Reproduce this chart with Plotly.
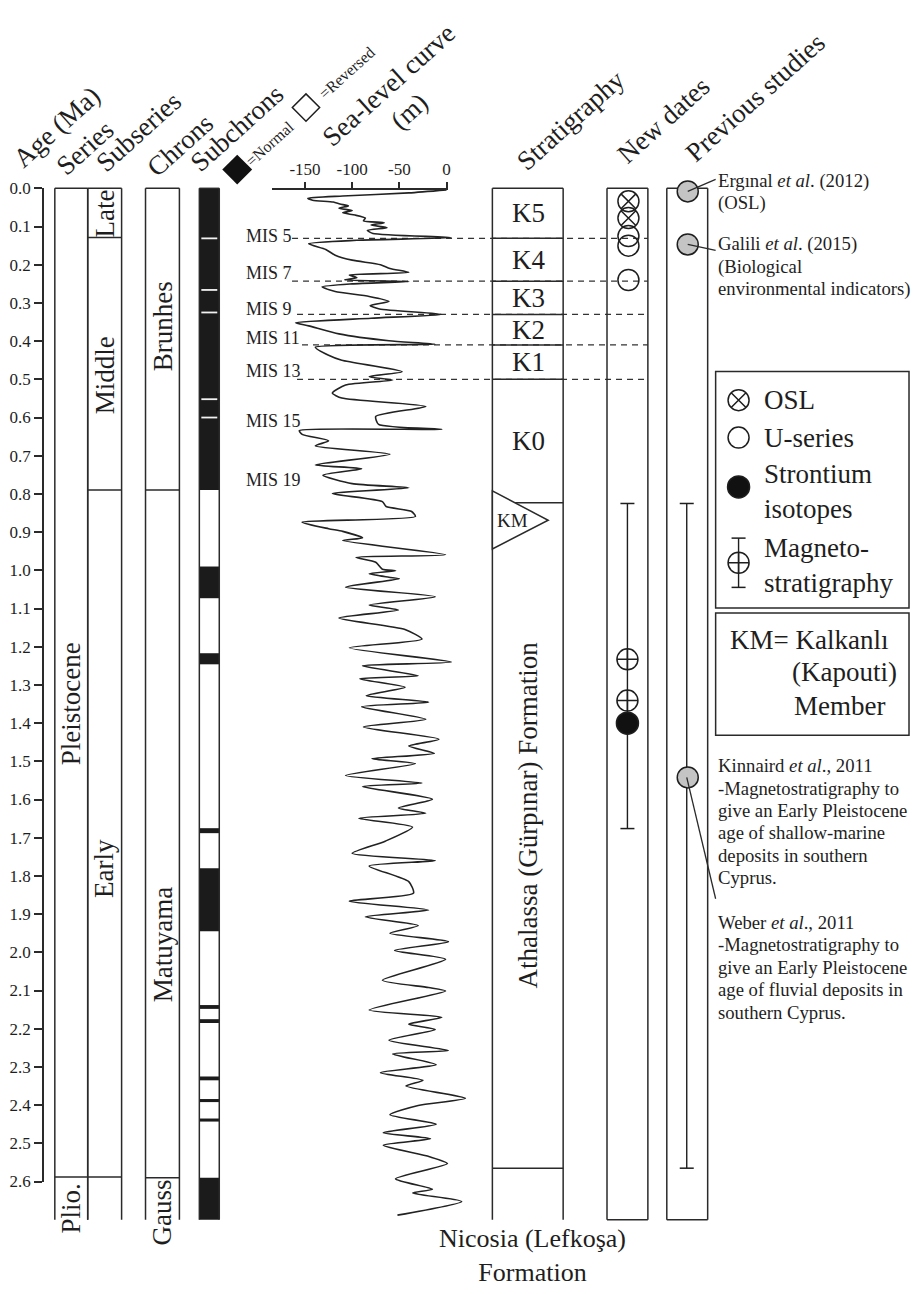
import plotly.graph_objects as go

# ------------------------------------------------------------------ data
age_tick_vals = [0.0, 0.1, 0.2, 0.3, 0.4, 0.5, 0.6, 0.7, 0.8, 0.9, 1.0, 1.1, 1.2,
                 1.3, 1.4, 1.5, 1.6, 1.7, 1.8, 1.9, 2.0, 2.1, 2.2, 2.3, 2.4, 2.5, 2.6]
age_tick_text = ["0.0", "0.1", "0.2", "0.3", "0.4", "0.5", "0.6", "0.7", "0.8", "0.9",
                 "1.0", "1.1", "1.2", "1.3", "1.4", "1.5", "1.6", "1.7", "1.8", "1.9",
                 "2.0", "2.1", "2.2", "2.3", "2.4", "2.5", "2.6"]
sea_tick_vals = [-150, -100, -50, 0]
sea_tick_text = ["-150", "-100", "-50", "0"]

column_base = 2.70

series_names = ["Pleistocene", "Plio."]
series_bounds = [0.0, 2.588]
series_label_ages = [1.35, 2.67]

subseries_names = ["Late", "Middle", "Early"]
subseries_bounds = [0.0, 0.129, 0.79, 2.588]
subseries_label_ages = [0.067, 0.49, 1.78]

chron_names = ["Brunhes", "Matuyama", "Gauss"]
chron_bounds = [0.0, 0.79, 2.59]
chron_label_ages = [0.36, 1.98, 2.68]

normal_start = [0.0, 0.99, 1.217, 1.675, 1.78, 2.138, 2.175, 2.325, 2.384, 2.435, 2.59]
normal_end = [0.79, 1.073, 1.246, 1.688, 1.945, 2.148, 2.185, 2.335, 2.392, 2.443, 2.70]
excursion_ages = [0.131, 0.266, 0.325, 0.552, 0.600]

strat_units = ["K5", "K4", "K3", "K2", "K1", "K0"]
strat_bounds = [0.0, 0.131, 0.243, 0.33, 0.41, 0.50, 0.823]
strat_base = 2.565
km_ages = [0.792, 0.869, 0.944]
formation_label_age = 1.64

mis_names = ["MIS 5", "MIS 7", "MIS 9", "MIS 11", "MIS 13", "MIS 15", "MIS 19"]
mis_label_ages = [0.124, 0.222, 0.315, 0.392, 0.477, 0.609, 0.763]
mis_line_ages = [0.131, 0.243, 0.33, 0.41, 0.50]

osl_ages = [0.034, 0.078]
useries_ages = [0.125, 0.150, 0.240]
magneto_ages = [1.233, 1.341]
magneto_range = [0.825, 1.676]
strontium_ages = [1.40]
previous_ages = [0.008, 0.147, 1.542]
previous_range = [0.825, 2.565]

sl_age = [0.004, 0.012, 0.020, 0.026, 0.031, 0.036, 0.041, 0.046, 0.052, 0.058,
          0.064, 0.070, 0.078, 0.085, 0.090, 0.096, 0.103, 0.110, 0.118, 0.129,
          0.136, 0.145, 0.160, 0.175, 0.188, 0.200, 0.210, 0.220, 0.227, 0.234,
          0.240, 0.244, 0.250, 0.258, 0.270, 0.283, 0.296, 0.307, 0.316, 0.330,
          0.340, 0.352, 0.360, 0.381, 0.399, 0.408, 0.416, 0.437, 0.450, 0.480,
          0.493, 0.502, 0.515, 0.536, 0.549, 0.571, 0.597, 0.618, 0.631, 0.634,
          0.644, 0.661, 0.674, 0.696, 0.724, 0.734, 0.751, 0.773, 0.784, 0.799,
          0.820, 0.833, 0.846, 0.859, 0.874, 0.891, 0.898, 0.915, 0.922, 0.959,
          0.966, 0.979, 0.997, 1.001, 1.009, 1.018, 1.022, 1.044, 1.069, 1.091,
          1.104, 1.125, 1.155, 1.180, 1.203, 1.240, 1.250, 1.276, 1.284, 1.306,
          1.328, 1.345, 1.357, 1.390, 1.410, 1.442, 1.460, 1.479, 1.493, 1.506,
          1.537, 1.557, 1.566, 1.599, 1.622, 1.636, 1.649, 1.672, 1.709, 1.741,
          1.760, 1.774, 1.815, 1.845, 1.866, 1.889, 1.907, 1.930, 1.950, 1.972,
          1.995, 2.018, 2.073, 2.092, 2.101, 2.151, 2.170, 2.188, 2.202, 2.230,
          2.257, 2.266, 2.294, 2.315, 2.335, 2.350, 2.382, 2.401, 2.425, 2.450,
          2.472, 2.488, 2.505, 2.535, 2.553, 2.593, 2.620, 2.630, 2.652, 2.688]
sl_m = [0, -40, -110, -147, -142, -120, -113, -104, -114, -100,
        -110, -97, -86, -88, -66, -80, -63, -84, -78, 5,
        -95, -146, -128, -118, -100, -70, -60, -40, -103, -95,
        -108, -40, -100, -132, -118, -82, -61, -81, -71, -5,
        -80, -160, -146, -114, -61, -12, -139, -125, -111, -47,
        -82, -57, -107, -121, -111, -22, -75, -72, -5, -156,
        -153, -125, -139, -60, -139, -90, -131, -100, -40, -121,
        -68, -64, -37, -33, -153, -125, -110, -89, -110, -1,
        -96, -75, -68, -54, -82, -61, -50, -107, -12, -82,
        -51, -114, -44, -26, -103, 5, -89, -30, -92, -44,
        -85, -19, -90, -22, -88, -8, -40, -13, -79, -33,
        -107, -26, -89, -15, -51, -22, -93, -36, -65, -100,
        -12, -82, -40, -35, -103, -19, -86, -30, -60, 2,
        -55, -1, -68, -19, -1, -82, -5, -40, -12, -61,
        2, -57, -11, -70, -25, -43, 20, -30, -60, -11,
        -67, -17, -67, -18, 1, -54, -15, -36, 16, -52]

header_texts = ["Age (Ma)", "Series", "Subseries", "Chrons", "Subchrons",
                "Sea-level curve", "(m)", "Stratigraphy", "New dates", "Previous studies"]

legend_items = ["OSL", "U-series", "Strontium<br>isotopes", "Magneto-<br>stratigraphy"]

erginal_lines = ["Ergınal <i>et al</i>. (2012)", "(OSL)"]
galili_lines = ["Galili <i>et al</i>. (2015)", "(Biological", "environmental indicators)"]
kinnaird_lines = ["Kinnaird <i>et al</i>., 2011", "-Magnetostratigraphy to",
                  "give an Early Pleistocene", "age of shallow-marine",
                  "deposits in southern", "Cyprus."]
weber_lines = ["Weber <i>et al</i>., 2011", "-Magnetostratigraphy to",
               "give an Early Pleistocene", "age of fluvial deposits in",
               "southern Cyprus."]

# ------------------------------------------------------------------ layout constants
W, H = 914, 1294
FONT = "Liberation Serif, Times New Roman, serif"
INK = "#1e1e1e"
LINE = "#2a2a2a"
AGE0_PX, PX_PER_MA = 182.0, 387.7
SL0_PX, PX_PER_M = 448.0, 0.9467


def age_at(py):
    return (py - AGE0_PX) / PX_PER_MA


def m_at(px):
    return (px - SL0_PX) / PX_PER_M


shapes = []


def seg(x0, y0, x1, y1, width=1.5, color=LINE, dash="solid", layer="below"):
    shapes.append(dict(type="line", xref="x", yref="y", x0=x0, y0=y0, x1=x1, y1=y1,
                       line=dict(color=color, width=width, dash=dash), layer=layer))


def column(x0, x1, top, bottom, closed):
    seg(x0, top, x0, bottom)
    seg(x1, top, x1, bottom)
    seg(x0, top, x1, top)
    if closed:
        seg(x0, bottom, x1, bottom)


annotations = []


def ann(text, x, y, size=27, angle=0, xanchor="center", yanchor="middle"):
    annotations.append(dict(text=text, x=x, y=y, xref="x", yref="y", showarrow=False,
                            textangle=angle, xanchor=xanchor, yanchor=yanchor,
                            font=dict(family=FONT, size=size, color=INK)))


SER = (55, 88)
SUB = (88, 122)
CHR = (146, 180)
SCH = (200, 220)
STR = (494, 565)
NEW = (609, 650)
PRE = (669, 710)

# ---- Series / Subseries / Chrons
column(SER[0], SER[1], 0.0, column_base, False)
column(SUB[0], SUB[1], 0.0, column_base, False)
for b in series_bounds[1:]:
    seg(SER[0], b, SER[1], b)
for b in subseries_bounds[1:]:
    seg(SUB[0], b, SUB[1], b)
column(CHR[0], CHR[1], 0.0, column_base, False)
for b in chron_bounds[1:]:
    seg(CHR[0], b, CHR[1], b)

sx = (SER[0] + SER[1]) / 2
for name, a in zip(series_names, series_label_ages):
    ann(name, sx, a, angle=-90)
ux = (SUB[0] + SUB[1]) / 2
for name, a in zip(subseries_names, subseries_label_ages):
    ann(name, ux, a, angle=-90)
cx = (CHR[0] + CHR[1]) / 2
for name, a in zip(chron_names, chron_label_ages):
    ann(name, cx, a, angle=-90)

# ---- Subchrons
for a0, a1 in zip(normal_start, normal_end):
    shapes.append(dict(type="rect", xref="x", yref="y", x0=SCH[0], x1=SCH[1], y0=a0, y1=a1,
                       fillcolor="#1b1b1b", line=dict(width=0), layer="below"))
for a in excursion_ages:
    seg(SCH[0] + 2, a, SCH[1] - 2, a, width=1.8, color="#f2f2f2")
column(SCH[0], SCH[1], 0.0, column_base, False)

# ---- MIS dashed lines and labels
mis_line_start = [293, 293, 298, 303, 298]
for a, xs in zip(mis_line_ages, mis_line_start):
    seg(xs, a, NEW[1], a, width=1.3, color="#333333", dash="6px,5px")
for name, a in zip(mis_names, mis_label_ages):
    ann(name, 245, a, size=18, xanchor="left")

# ---- Stratigraphy column
column(STR[0], STR[1], 0.0, column_base, False)
for b in strat_bounds[1:]:
    seg(STR[0], b, STR[1], b)
seg(STR[0], strat_base, STR[1], strat_base)
shapes.append(dict(type="path", xref="x", yref="y",
                   path=f"M {STR[0]},{km_ages[0]} L 550,{km_ages[1]} L {STR[0]},{km_ages[2]} Z",
                   fillcolor="white", line=dict(color=LINE, width=1.5), layer="below"))
stx = (STR[0] + STR[1]) / 2
for i, name in enumerate(strat_units):
    ann(name, stx + 1, (strat_bounds[i] + strat_bounds[i + 1]) / 2)
ann("KM", 514, km_ages[1], size=19)
ann("Athalassa (Gürpınar) Formation", stx, formation_label_age, angle=-90)
ann("Nicosia (Lefkoşa)<br>Formation", 534, age_at(1265), size=26)

# ---- New dates / previous studies columns
column(NEW[0], NEW[1], 0.0, column_base, True)
column(PRE[0], PRE[1], 0.0, column_base, True)

# ---- header labels (rotated)
header_pos = [(57, 120), (85, 141), (139, 125), (181, 138), (238, 121),
              (390, 77), (411, 104), (573, 113), (666, 113), (757, 90)]
for t, (hx, hy) in zip(header_texts, header_pos):
    ann(t, hx, age_at(hy), angle=-42)
ann("=Normal", 271, age_at(137), size=16, angle=-42)
ann("=Reversed", 348, age_at(64), size=16, angle=-42)

# ---- previous-studies text and leader lines
TX = 718
TS = 18.7
for i, t in enumerate(erginal_lines):
    ann(t, TX, age_at(175 + 22.3 * i), size=TS, xanchor="left")
for i, t in enumerate(galili_lines):
    ann(t, TX, age_at(239 + 22.5 * i), size=TS, xanchor="left")
for i, t in enumerate(kinnaird_lines):
    ann(t, TX, age_at(768 + 22.7 * i), size=TS, xanchor="left")
for i, t in enumerate(weber_lines):
    ann(t, TX, age_at(927 + 22.8 * i), size=TS, xanchor="left")
seg(690, previous_ages[0], 718, age_at(173), width=1.3, layer="above")
seg(690, previous_ages[1], 718, age_at(245), width=1.3, layer="above")
seg(689, previous_ages[2], 718, age_at(903), width=1.3, layer="above")

# ---- legend boxes
shapes.append(dict(type="rect", xref="x", yref="y", x0=718, x1=912, y0=age_at(368), y1=age_at(608),
                   line=dict(color=LINE, width=1.5), layer="below"))
shapes.append(dict(type="rect", xref="x", yref="y", x0=718, x1=912, y0=age_at(613), y1=age_at(737),
                   line=dict(color=LINE, width=1.5), layer="below"))
legend_text_y = [397, 435, 490, 565]
for t, ly in zip(legend_items, legend_text_y):
    annotations.append(dict(text=t, x=765, y=age_at(ly), xref="x", yref="y", showarrow=False,
                            xanchor="left", yanchor="middle", align="left",
                            font=dict(family=FONT, size=27, color=INK)))
ann("KM= Kalkanlı", 730, age_at(640), xanchor="left")
ann("(Kapouti)", 793, age_at(673), xanchor="left")
ann("Member", 795, age_at(707), xanchor="left")

# ------------------------------------------------------------------ traces
fig = go.Figure()

fig.add_trace(go.Scatter(x=sl_m, y=sl_age, xaxis="x3", yaxis="y", mode="lines",
                         line=dict(color="#222222", width=1.6, shape="spline", smoothing=0.6),
                         hoverinfo="skip"))

# dummy traces that carry the two visible axes
fig.add_trace(go.Scatter(x=[-100], y=[-0.3], xaxis="x2", yaxis="y", mode="markers",
                         marker=dict(opacity=0), hoverinfo="skip"))
fig.add_trace(go.Scatter(x=[-10], y=[1.0], xaxis="x", yaxis="y2", mode="markers",
                         marker=dict(opacity=0), hoverinfo="skip"))

MK = dict(color=INK, width=1.5)
NX = (NEW[0] + NEW[1]) / 2 + 1
PX = 689

fig.add_trace(go.Scatter(x=[NX - 1, NX - 1], y=magneto_range, mode="lines+markers",
                         line=dict(color=INK, width=1.4),
                         marker=dict(symbol="line-ew", size=10, line=MK), hoverinfo="skip"))
fig.add_trace(go.Scatter(x=[PX, PX], y=previous_range, mode="lines+markers",
                         line=dict(color=INK, width=1.4),
                         marker=dict(symbol="line-ew", size=10, line=MK), hoverinfo="skip"))

fig.add_trace(go.Scatter(x=[NX] * len(osl_ages), y=osl_ages, mode="markers",
                         marker=dict(symbol="circle-x-open", size=21, color=INK, line=MK),
                         hoverinfo="skip"))
fig.add_trace(go.Scatter(x=[NX] * len(useries_ages), y=useries_ages, mode="markers",
                         marker=dict(symbol="circle-open", size=21, color=INK, line=MK),
                         hoverinfo="skip"))
fig.add_trace(go.Scatter(x=[NX - 1] * len(magneto_ages), y=magneto_ages, mode="markers",
                         marker=dict(symbol="circle-cross-open", size=21, color=INK, line=MK),
                         hoverinfo="skip"))
fig.add_trace(go.Scatter(x=[NX - 1] * len(strontium_ages), y=strontium_ages, mode="markers",
                         marker=dict(symbol="circle", size=22, color="#111111", line=MK),
                         hoverinfo="skip"))
fig.add_trace(go.Scatter(x=[PX + 1] * len(previous_ages), y=previous_ages, mode="markers",
                         marker=dict(symbol="circle", size=21, color="#c4c4c4", line=MK),
                         hoverinfo="skip"))

# legend symbols
LX = 741
fig.add_trace(go.Scatter(x=[LX], y=[age_at(397)], mode="markers",
                         marker=dict(symbol="circle-x-open", size=21, color=INK, line=MK),
                         hoverinfo="skip"))
fig.add_trace(go.Scatter(x=[LX], y=[age_at(435)], mode="markers",
                         marker=dict(symbol="circle-open", size=21, color=INK, line=MK),
                         hoverinfo="skip"))
fig.add_trace(go.Scatter(x=[LX], y=[age_at(485)], mode="markers",
                         marker=dict(symbol="circle", size=22, color="#111111", line=MK),
                         hoverinfo="skip"))
fig.add_trace(go.Scatter(x=[LX, LX], y=[age_at(537), age_at(587)], mode="lines+markers",
                         line=dict(color=INK, width=1.4),
                         marker=dict(symbol="line-ew", size=10, line=MK), hoverinfo="skip"))
fig.add_trace(go.Scatter(x=[LX], y=[age_at(562)], mode="markers",
                         marker=dict(symbol="circle-cross-open", size=21, color=INK, line=MK),
                         hoverinfo="skip"))

# normal / reversed key
fig.add_trace(go.Scatter(x=[238], y=[age_at(163)], mode="markers",
                         marker=dict(symbol="diamond", size=23, color="#111111"),
                         hoverinfo="skip"))
fig.add_trace(go.Scatter(x=[307], y=[age_at(100)], mode="markers",
                         marker=dict(symbol="diamond-open", size=21, color=INK,
                                     line=dict(color=INK, width=1.5)),
                         hoverinfo="skip"))

axis_font = dict(family=FONT, size=17, color=INK)
fig.update_layout(
    width=W, height=H, margin=dict(l=0, r=0, t=0, b=0),
    paper_bgcolor="white", plot_bgcolor="rgba(0,0,0,0)", showlegend=False,
    xaxis=dict(domain=[0, 1], range=[0, W], visible=False, fixedrange=True),
    yaxis=dict(domain=[0, 1], range=[age_at(H), age_at(0)], visible=False, fixedrange=True),
    xaxis3=dict(overlaying="x", range=[m_at(0), m_at(W)], visible=False, fixedrange=True),
    xaxis2=dict(domain=[273 / W, 449 / W], range=[m_at(273), m_at(449)], anchor="free",
                position=1 - 183 / H, side="top", showline=True, linecolor=LINE, linewidth=1.5,
                ticks="outside", ticklen=7, tickwidth=1.5, tickcolor=LINE,
                tickvals=sea_tick_vals, ticktext=sea_tick_text, tickfont=axis_font,
                showgrid=False, zeroline=False, fixedrange=True),
    yaxis2=dict(domain=[1 - 1190 / H, 1 - 182 / H], range=[2.6, 0.0], anchor="free",
                position=43 / W, side="left", showline=True, linecolor=LINE, linewidth=1.5,
                ticks="outside", ticklen=8, tickwidth=1.5, tickcolor=LINE,
                tickvals=age_tick_vals, ticktext=age_tick_text, tickfont=axis_font,
                showgrid=False, zeroline=False, fixedrange=True),
    shapes=shapes, annotations=annotations,
)

fig.write_html("out.html", config={"displayModeBar": False})

# remove the browser's default page margin so the figure sits at the window origin
with open("out.html", "r", encoding="utf-8") as fh:
    page = fh.read()
page = page.replace("<head>", "<head><style>html,body{margin:0;padding:0;overflow:hidden;}</style>", 1)
with open("out.html", "w", encoding="utf-8") as fh:
    fh.write(page)
